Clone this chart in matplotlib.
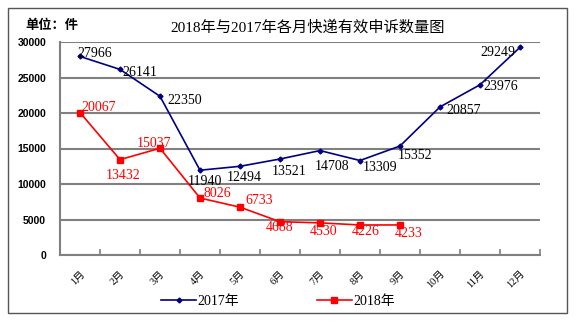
import matplotlib.pyplot as plt
from matplotlib.patches import Rectangle
from matplotlib.lines import Line2D

months = ['1月', '2月', '3月', '4月', '5月', '6月', '7月', '8月', '9月', '10月', '11月', '12月']
y2017 = [27966, 26141, 22350, 11940, 12494, 13521, 14708, 13309, 15352, 20857, 23976, 29249]
y2018 = [20067, 13432, 15037, 8026, 6733, 4688, 4530, 4226, 4233]

# label offsets in pixels (dx, dy, ha)
off2017 = [(-3, 3, 'left'), (2, -3, 'left'), (7, -4, 'left'), (5, -11, 'center'),
           (4, -11, 'center'), (-8, -12, 'left'), (12, -16, 'center'), (3, -7, 'left'),
           (-2, -9, 'left'), (6, -4, 'left'), (3, -2, 'left'), (-5, -5, 'right')]
off2018 = [(1, 5, 'left'), (3, -16, 'center'), (-6, 5, 'center'), (3, 5, 'left'),
           (5, 7, 'left'), (0, -6, 'center'), (4, -9, 'center'), (6, -7, 'center'), (9, -9, 'center')]

CJK = ['Noto Sans CJK SC', 'DejaVu Sans']
SERIF_CJK = ['Liberation Serif', 'Noto Sans CJK SC']
NUM = 'Liberation Serif'

fig = plt.figure(figsize=(5.79, 3.25), dpi=100)
fig.patches.append(Rectangle((8 / 579, 12 / 325), 559 / 579, 305 / 325, transform=fig.transFigure,
                             fill=False, edgecolor='#555555', linewidth=1.0))

ax = fig.add_axes([60 / 579, 70 / 325, 480 / 579, 213 / 325])
x = list(range(1, 13))

ax.plot(x, y2017, color='#000080', marker='D', markersize=2.5, linewidth=1.2)
ax.plot(x[:len(y2018)], y2018, color='#ff0000', marker='s', markersize=4, linewidth=1.2)

for xi, v, (dx, dy, ha) in zip(x, y2017, off2017):
    ax.annotate(str(v), (xi, v), xytext=(dx, dy), textcoords='offset pixels',
                ha=ha, va='center', fontsize=10, family=NUM, color='black')
for xi, v, (dx, dy, ha) in zip(x, y2018, off2018):
    ax.annotate(str(v), (xi, v), xytext=(dx, dy), textcoords='offset pixels',
                ha=ha, va='center', fontsize=10, family=NUM, color='#ff0000')

ax.set_xlim(0.5, 12.5)
ax.set_ylim(0, 30000)
ax.set_yticks(range(0, 30001, 5000))
ax.set_yticklabels([str(v) for v in range(0, 30001, 5000)], fontsize=7.5,
                   family='Liberation Sans', fontweight='bold')
ax.yaxis.grid(True, color='#808080', linewidth=1.5)
ax.set_axisbelow(True)

ax.set_xticks(x)
ax.set_xticklabels(months, rotation=45, ha='right', rotation_mode='anchor', fontsize=7.5, family=SERIF_CJK)
ax.set_xticks([i + 0.5 for i in range(0, 13)], minor=True)
ax.tick_params(axis='x', which='major', length=0, pad=10)
ax.tick_params(axis='x', which='minor', direction='in', length=4, color='#808080', width=1.2)
ax.tick_params(axis='y', length=0, pad=10)

for s in ['top', 'right']:
    ax.spines[s].set_visible(False)
ax.spines['left'].set_color('#808080')
ax.spines['left'].set_linewidth(1.5)
ax.spines['bottom'].set_color('#808080')
ax.spines['bottom'].set_linewidth(1.5)

fig.text(308 / 579, 1 - 27 / 325, '2018年与2017年各月快递有效申诉数量图', ha='center', va='center',
         fontsize=11, family=SERIF_CJK)
fig.text(25 / 579, 1 - 25 / 325, '单位：件', ha='left', va='center', fontsize=9.5,
         family=CJK, fontweight='bold')

handles = [Line2D([], [], color='#000080', marker='D', markersize=2.5, linewidth=1.2),
           Line2D([], [], color='#ff0000', marker='s', markersize=4, linewidth=1.2)]
fig.legend(handles, ['2017年', '2018年'], loc='center', bbox_to_anchor=(278 / 579, 1 - 301 / 325),
           ncol=2, frameon=False, handlelength=2.5, columnspacing=5.6, handletextpad=0.1,
           prop={'family': SERIF_CJK, 'size': 10})

fig.savefig('out.png', dpi=100)
